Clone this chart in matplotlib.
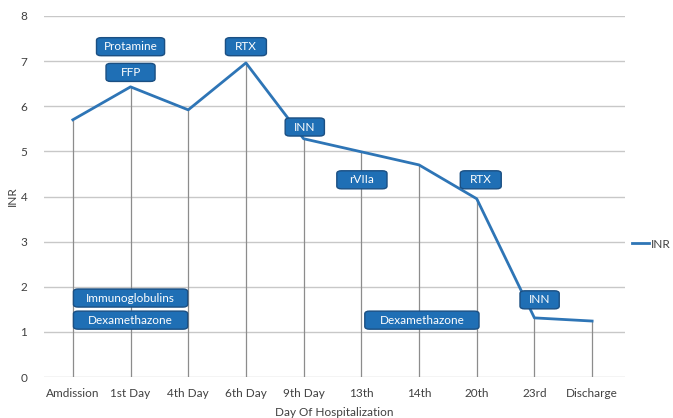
import numpy as np
import matplotlib
matplotlib.use("Agg")
import matplotlib.pyplot as plt
from matplotlib.patches import FancyBboxPatch
from matplotlib.lines import Line2D

plt.rcParams['font.family'] = ['Lato', 'DejaVu Sans']

days = ["Amdission", "1st Day", "4th Day", "6th Day", "9th Day",
        "13th", "14th", "20th", "23rd", "Discharge"]
inr = [5.70, 6.43, 5.92, 6.96, 5.28, 4.99, 4.70, 3.95, 1.31, 1.24]

# treatment labels: (text, x position in category units, y centre)
events = [
    ("Protamine", 1.0, 7.32),
    ("FFP", 1.0, 6.75),
    ("RTX", 3.0, 7.32),
    ("INN", 4.02, 5.54),
    ("rVIIa", 5.01, 4.37),
    ("RTX", 7.07, 4.37),
    ("INN", 8.09, 1.71),
    ("Immunoglobulins", 1.0, 1.75),
    ("Dexamethazone", 1.0, 1.26),
    ("Dexamethazone", 6.05, 1.26),
]
box_w = {"Protamine": 1.18, "FFP": 0.85, "RTX": 0.71, "INN": 0.68,
         "rVIIa": 0.87, "Immunoglobulins": 1.98, "Dexamethazone": 1.98}

line_col = "#2E75B6"
box_col = "#1F6FB5"
edge_col = "#1B4F82"
txt_col = "#404040"

fig = plt.figure(figsize=(6.73, 4.18), dpi=100)
ax = fig.add_axes([44 / 673, 41 / 418, 581 / 673, 361 / 418])

x = np.arange(len(days))
ax.set_ylim(0, 8)
ax.set_xlim(-0.5, 9.57)
ax.set_yticks(range(0, 9))
ax.grid(axis="y", color="#C8C8C8", lw=1)
ax.set_axisbelow(True)
for s in ax.spines.values():
    s.set_visible(False)

ax.vlines(x, 0, inr, color="#8C8C8C", lw=0.9, zorder=1)
ax.plot(x, inr, color=line_col, lw=2, zorder=3)

for name, xc, yc in events:
    w = box_w[name]
    h = 0.40
    ax.add_patch(FancyBboxPatch((xc - w / 2, yc - h / 2), w, h,
                                boxstyle="round,pad=0,rounding_size=0.08",
                                mutation_aspect=0.75,
                                fc=box_col, ec=edge_col, lw=1, zorder=4))
    ax.text(xc, yc, name, color="white", ha="center", va="center",
            fontsize=8.5, zorder=5)

ax.set_xticks(x)
ax.set_xticklabels(days)
ax.tick_params(length=0, labelsize=8.5, labelcolor=txt_col, pad=8)
ax.tick_params(axis="y", pad=12)
ax.set_xlabel("Day Of Hospitalization", fontsize=8.5, color=txt_col, labelpad=6)
ax.set_ylabel("INR", fontsize=8.5, color=txt_col, labelpad=2)

fig.legend(handles=[Line2D([], [], color=line_col, lw=2)], labels=["INR"],
           loc="center left", bbox_to_anchor=(632 / 673, 1 - 244 / 418),
           frameon=False, fontsize=8.5, handlelength=1.4, handletextpad=0.2,
           borderpad=0, borderaxespad=0, labelcolor=txt_col)

fig.savefig("out.png", dpi=100)
